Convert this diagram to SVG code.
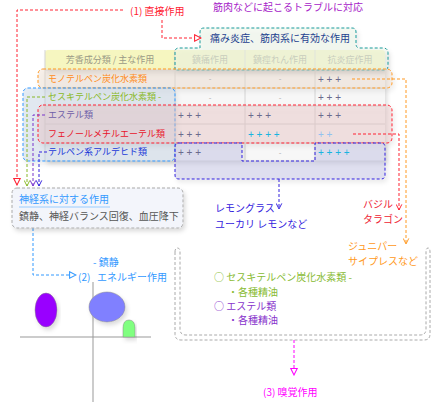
<svg xmlns="http://www.w3.org/2000/svg" width="441" height="416" viewBox="0 0 441 416">
<style>
text{font-family:"Noto Sans CJK JP","Liberation Sans",sans-serif;font-size:10px}
.hd{font-size:9px;fill:#9a9a86;text-anchor:middle}
.rl{font-size:9px}
.pl{font-family:"Liberation Sans",sans-serif;font-size:10px;fill:#6a6a8c}
.cy{fill:#18b4e0}
.lb{fill:#92c2f0}
.ds{font-family:"Liberation Sans",sans-serif;font-size:8px;fill:#b0b0b0;text-anchor:middle}
.grid{stroke:#d4d4d4;stroke-width:1;fill:none}
.dash{stroke-dasharray:3,2;fill:none;stroke-width:1}
.box{stroke-dasharray:3,2;stroke-width:1}
</style>
<defs>
<filter id="sh" x="-10%" y="-20%" width="125%" height="160%">
<feDropShadow dx="2" dy="3" stdDeviation="2" flood-color="#000" flood-opacity="0.14"/>
</filter>
<marker id="triR" viewBox="0 0 10 10" refX="9" refY="5" markerWidth="8" markerHeight="8" markerUnits="userSpaceOnUse" orient="auto"><path d="M1,1 L9,5 L1,9 Z" fill="#fff" stroke="#ff2233" stroke-width="1.3"/></marker>
<marker id="triB" viewBox="0 0 10 10" refX="9" refY="5" markerWidth="8" markerHeight="8" markerUnits="userSpaceOnUse" orient="auto"><path d="M1,1 L9,5 L1,9 Z" fill="#fff" stroke="#3399ff" stroke-width="1.3"/></marker>
<marker id="triM" viewBox="0 0 10 10" refX="9" refY="5" markerWidth="8" markerHeight="8" markerUnits="userSpaceOnUse" orient="auto"><path d="M1,1 L9,5 L1,9 Z" fill="#fff" stroke="#ff00ff" stroke-width="1.3"/></marker>
<marker id="chG" viewBox="0 0 10 10" refX="9" refY="5" markerWidth="7" markerHeight="7" markerUnits="userSpaceOnUse" orient="auto"><path d="M1,1 L9,5 L1,9" fill="none" stroke="#88b828" stroke-width="1.4"/></marker>
<marker id="chP" viewBox="0 0 10 10" refX="9" refY="5" markerWidth="7" markerHeight="7" markerUnits="userSpaceOnUse" orient="auto"><path d="M1,1 L9,5 L1,9" fill="none" stroke="#7733cc" stroke-width="1.4"/></marker>
<marker id="chV" viewBox="0 0 10 10" refX="9" refY="5" markerWidth="7" markerHeight="7" markerUnits="userSpaceOnUse" orient="auto"><path d="M1,1 L9,5 L1,9" fill="none" stroke="#3322dd" stroke-width="1.4"/></marker>
<marker id="chO" viewBox="0 0 10 10" refX="9" refY="5" markerWidth="7" markerHeight="7" markerUnits="userSpaceOnUse" orient="auto"><path d="M1,1 L9,5 L1,9" fill="none" stroke="#ff9922" stroke-width="1.4"/></marker>
<marker id="chR" viewBox="0 0 10 10" refX="9" refY="5" markerWidth="7" markerHeight="7" markerUnits="userSpaceOnUse" orient="auto"><path d="M1,1 L9,5 L1,9" fill="none" stroke="#ff2233" stroke-width="1.4"/></marker>
</defs>

<rect width="441" height="416" fill="#fff"/>

<text x="213" y="11" fill="#a622c8">筋肉などに起こるトラブルに対応</text>

<g id="table">
<rect x="45" y="70" width="340" height="91" fill="#f7f7f7" filter="url(#sh)"/>
<rect x="45" y="50" width="340" height="20" rx="3" fill="#f6f6c0" filter="url(#sh)"/>
<path class="grid" d="M45,50 V161 M175,50 V161 M245,50 V161 M315,50 V161 M45,70 H385 M45,88 H385 M45,106 H385 M45,124 H385 M45,143 H385 M45,161 H385"/>
<text class="hd" x="110" y="63">芳香成分類 / 主な作用</text>
<text class="hd" x="210" y="63">鎮痛作用</text>
<text class="hd" x="280" y="63">鎮痙れん作用</text>
<text class="hd" x="350" y="63">抗炎症作用</text>
</g>

<g id="box-teal">
<path class="box" d="M175,70 V52 Q175,48 179,48 H200 V32 Q200,28 204,28 H352 Q356,28 356,32 V44 Q356,48 360,48 H383 Q388,48 388,53 V66 Q388,70 384,70 Z" fill="#eef6ea" fill-opacity="0.55" stroke="#1a9a9a" filter="url(#sh)"/>
<text x="210" y="42" fill="#1d3f8f">痛み炎症、筋肉系に有効な作用</text>
</g>

<g id="box-orange">
<rect class="box" x="38" y="69" width="354" height="19" rx="5" fill="#eedccc" fill-opacity="0.4" stroke="#ff9922" filter="url(#sh)"/>
</g>

<g id="box-blue">
<rect class="box" x="23" y="88" width="152" height="73" rx="5" fill="#c8d6e6" fill-opacity="0.45" stroke="#3399ff" filter="url(#sh)"/>
</g>

<g id="box-red">
<rect class="box" x="38" y="105" width="354" height="38" rx="5" fill="#ecc4c4" fill-opacity="0.4" stroke="#ff2233" filter="url(#sh)"/>
</g>

<g id="box-violet">
<path class="box" d="M179,143 H242 V161 H315 V143 H381 Q385,143 385,147 V175 Q385,179 381,179 H179 Q175,179 175,175 V147 Q175,143 179,143 Z" fill="#cacaea" fill-opacity="0.5" stroke="#3322dd" filter="url(#sh)"/>
</g>

<g id="rows">
<text class="rl" x="48" y="82" fill="#ff8c1a">モノテルペン炭化水素類</text>
<text class="rl" x="48" y="100" fill="#8ab928">セスキテルペン炭化水素類 -</text>
<text class="rl" x="48" y="118" fill="#6e5ea8">エステル類</text>
<text class="rl" x="48" y="137" fill="#e8142a">フェノールメチルエーテル類</text>
<text class="rl" x="48" y="155" fill="#2038d8">テルペン系アルデヒド類</text>

<text class="ds" x="210" y="81">-</text>
<text class="ds" x="280" y="81">-</text>
<text class="pl" x="318" y="83">+ + +</text>
<text class="ds" x="210" y="100">-</text>
<text class="ds" x="280" y="100">-</text>
<text class="pl" x="318" y="101">+ + +</text>
<text class="pl" x="178" y="119">+ + +</text>
<text class="pl" x="248" y="119">+ + +</text>
<text class="pl" x="318" y="119">+ + +</text>
<text class="pl" x="178" y="138">+ + +</text>
<text class="pl cy" x="248" y="138">+ + + +</text>
<text class="pl lb" x="318" y="138">+ +</text>
<text class="pl" x="178" y="156">+ + +</text>
<text class="ds" x="280" y="155">-</text>
<text class="pl cy" x="318" y="156">+ + + +</text>
</g>

<g id="node-smell">
<path class="box" d="M175,252 Q175,248 177.5,248 Q180,248 180,252 V329 Q180,335 186,335 H420 Q426,335 426,329 V252 Q426,248 428,248 Q430,248 430,252 V334 Q430,340 424,340 H181 Q175,340 175,334 Z" fill="none" stroke="#aaaaaa"/>
<text x="214" y="281" fill="#88bb33">○ セスキテルペン炭化水素類 -</text>
<text x="228" y="296" fill="#88bb33">・各種精油</text>
<text x="214" y="310" fill="#8833cc">○ エステル類</text>
<text x="228" y="324" fill="#8833cc">・各種精油</text>
</g>

<g id="connectors">
<path class="dash" stroke="#ff2233" d="M123,10 H17 V185" marker-end="url(#triR)"/>
<path class="dash" stroke="#ff2233" d="M162,20 V38 H201" marker-end="url(#triR)"/>
<path class="dash" stroke="#88b828" d="M45,97 H27 V186" marker-end="url(#chG)"/>
<path class="dash" stroke="#7733cc" d="M45,115 H33 V186" marker-end="url(#chP)"/>
<path class="dash" stroke="#3322dd" d="M47,152 H39 V186" marker-end="url(#chV)"/>
<path class="dash" stroke="#ff9922" d="M352,79 H406 V244" marker-end="url(#chO)"/>
<path class="dash" stroke="#ff2233" d="M353,134 H399 V210" marker-end="url(#chR)"/>
<path class="dash" stroke="#3322dd" d="M279,179 V209" marker-end="url(#chV)"/>
<path class="dash" stroke="#3399ff" d="M33,228 V275 H76" marker-end="url(#triB)"/>
<path class="dash" stroke="#ff00ff" d="M294,340 V375" marker-end="url(#triM)"/>
</g>

<g id="label-direct">
<text x="130" y="15" fill="#ff2233">(1) 直接作用</text>
</g>

<g id="node-nerve">
<rect class="box" x="12" y="188" width="171" height="40" rx="5" fill="#f3f5fb" stroke="#aaaaaa" filter="url(#sh)"/>
<text x="19" y="203" fill="#3399ff">神経系に対する作用</text>
<line x1="19" y1="207" x2="110" y2="207" stroke="#99ccff" stroke-width="1"/>
<text x="19" y="220" fill="#555555">鎮静、神経バランス回復、血圧降下</text>
</g>

<g id="label-lemon">
<text x="215" y="212" fill="#3322dd">レモングラス</text>
<text x="215" y="228" fill="#3322dd">ユーカリ レモンなど</text>
</g>
<g id="label-basil">
<text x="363" y="208" fill="#ee2233">バジル</text>
<text x="363" y="223" fill="#ee2233">タラゴン</text>
</g>
<g id="label-juniper">
<text x="348" y="250" fill="#ff9922">ジュニパー</text>
<text x="348" y="265" fill="#ff9922">サイプレスなど</text>
</g>

<g id="node-energy">
<text x="93" y="266" font-size="9.5" fill="#3399ff">- 鎮静</text>
<text x="78" y="281" fill="#3399ff">(2)</text>
<text x="97" y="281" fill="#3399ff">エネルギー作用</text>
<line x1="93" y1="282" x2="93" y2="402" stroke="#999" stroke-width="1"/>
<line x1="20" y1="337" x2="151" y2="337" stroke="#999" stroke-width="1"/>
<ellipse cx="46" cy="310" rx="11" ry="17" fill="#9900ff" stroke="#888" stroke-width="0.5" filter="url(#sh)"/>
<ellipse cx="107" cy="307" rx="18" ry="15" fill="#8080ff" stroke="#888" stroke-width="0.5" filter="url(#sh)"/>
<path d="M123,337 V328 Q123,320 129,320 Q135,320 135,328 V337 Z" fill="#80ff80" stroke="#888" stroke-width="0.5" filter="url(#sh)"/>
</g>

<g id="label-smell">
<text x="263" y="396" fill="#ff00ff">(3) 嗅覚作用</text>
</g>
</svg>
